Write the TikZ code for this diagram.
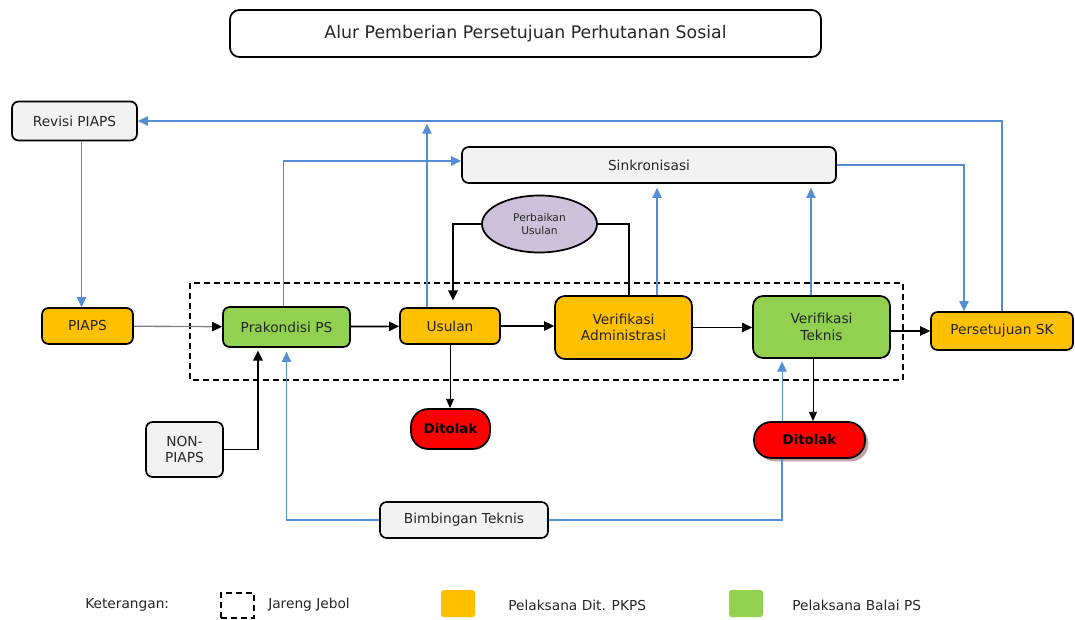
\documentclass[tikz,border=0pt]{standalone}
\usepackage{fontspec}
\setmainfont{DejaVu Sans}
\newfontfamily\tebal{DejaVu Sans Bold}
\usepackage{xcolor}
\usetikzlibrary{arrows.meta,calc,shapes.geometric,shadows}

\definecolor{pkps}{HTML}{FFC000}
\definecolor{balai}{HTML}{92D050}
\definecolor{abu}{HTML}{F2F2F2}
\definecolor{ungu}{HTML}{CCC0DA}
\definecolor{garis}{HTML}{558ED5}
\definecolor{teks}{HTML}{262626}
\definecolor{bayang}{HTML}{A87A7A}

\begin{document}
\begin{tikzpicture}[x=0.75pt, y=-0.75pt,
    box/.style={draw, rounded corners=5pt, line width=1.3pt, text=teks, align=center, inner sep=0pt, font=\fontsize{10.3}{12.5}\selectfont},
    tolak/.style={draw, fill=red, rounded corners=13pt, line width=1.3pt, text=black, inner sep=0pt, font=\tebal\fontsize{10}{12}\selectfont},
    ket/.style={text=teks, inner sep=0pt, anchor=west, font=\fontsize{10.3}{12.5}\selectfont},
    jareng/.style={draw, line width=1.3pt, dash pattern=on 4.5pt off 3pt},
    alur/.style={line width=1.3pt, -{Triangle[length=7.5pt,width=7pt]}},
    alurtipis/.style={line width=0.7pt, -{Triangle[length=7pt,width=6pt]}},
    balik/.style={draw=garis, line width=1.2pt, -{Triangle[length=7.5pt,width=7pt]}},
    balikpolos/.style={draw=garis, line width=1.2pt}]
        \useasboundingbox (0,0) rectangle (1075,620);

        % Judul
        \node[box, fill=white, rounded corners=7pt, minimum width=443.25pt, minimum height=35.25pt, font=\fontsize{13}{15}\selectfont] (judul) at (525.5,33.5) {Alur Pemberian Persetujuan Perhutanan Sosial};

        % Jareng Jebol
        \draw[jareng] (190,283) rectangle (903,380);

        % Kotak atas
        \node[box, fill=abu, minimum width=93.75pt, minimum height=29.25pt] (revisi) at (74.5,121) {Revisi PIAPS};
        \node[box, fill=abu, minimum width=280.5pt, minimum height=27pt] (sinkron) at (649,165) {Sinkronisasi};
        \node[draw, ellipse, fill=ungu, line width=1.3pt, minimum width=86.25pt, minimum height=42.75pt, inner sep=0pt, align=center, text=teks, font=\fontsize{8}{9.5}\selectfont] (perbaikan) at (539.5,224) {Perbaikan\\Usulan};

        % Alur utama
        \node[box, fill=pkps, minimum width=68.25pt, minimum height=27pt] (piaps) at (87.5,326) {PIAPS};
        \node[box, fill=balai, minimum width=95.25pt, minimum height=30pt] (prakondisi) at (286.5,327) {Prakondisi PS};
        \node[box, fill=pkps, minimum width=75pt, minimum height=27pt] (usulan) at (450,326) {Usulan};
        \node[box, fill=pkps, rounded corners=7.5pt, minimum width=102.75pt, minimum height=47.25pt] (veradmin) at (623.5,327.5) {Verifikasi\\Administrasi};
        \node[box, fill=balai, rounded corners=7.5pt, minimum width=102.75pt, minimum height=46.5pt] (vertek) at (821.5,327) {Verifikasi\\Teknis};
        \node[box, fill=pkps, minimum width=106.5pt, minimum height=28.5pt] (sk) at (1002,331) {Persetujuan SK};

        % Kotak bawah
        \node[tolak, minimum width=59.25pt, minimum height=30pt] (tolak1) at (450.5,429) {Ditolak};
        \node[tolak, minimum width=83.25pt, minimum height=27pt, drop shadow={shadow xshift=2.5pt, shadow yshift=-2.5pt, fill=bayang, opacity=0.7}] (tolak2) at (809.5,440) {Ditolak};
        \node[box, fill=abu, minimum width=57.75pt, minimum height=41.25pt] (nonpiaps) at (184.5,449.5) {NON-\\PIAPS};
        \node[box, fill=abu, minimum width=126pt, minimum height=27pt] (bimbingan) at (464,520) {Bimbingan Teknis};

        % Panah hitam
        \draw[alur, draw=black!50, line width=1pt, -{Triangle[length=7.5pt,width=7pt,color=black]}] (piaps) -- (prakondisi);
        \draw[alur] (prakondisi) -- (usulan);
        \draw[alur] (usulan.east) -- (usulan.east -| veradmin.west);
        \draw[alur] (veradmin.east) -- (veradmin.east -| vertek.west);
        \draw[alur] (sk.west -| vertek.east) -- (sk.west);
        \draw[alur, -] (perbaikan.east) -| ($(veradmin.north)+(5.5,0)$);
        \draw[alur, shorten >=5pt] (perbaikan.west) -| ($(usulan.north)+(3,0)$);
        \draw[alur, shorten >=2pt] (nonpiaps.east) -| ($(prakondisi.south)+(-28.5,0)$);
        \draw[alurtipis] (usulan.south) -- (usulan.south |- tolak1.north);
        \draw[alurtipis] ($(vertek.south)+(-8.5,0)$) coordinate (vt1) -- (vt1 |- tolak2.north);

        % Panah biru
        \draw[balik] ($(revisi.south)+(7,0)$) -- ($(piaps.north)+(-6,0)$);
        \draw[balik] ($(prakondisi.north)+(-3,0)$) |- ($(sinkron.west)+(0,-4)$);
        \draw[balik, shorten >=2pt] ($(usulan.north)+(-23,0)$) coordinate (us1) -- (us1 |- revisi.east);
        \draw[balik] (sk.north) |- (revisi.east);
        \draw[balik] (sinkron.east) -| ($(sk.north)+(-38,0)$);
        \draw[balik, shorten >=3pt] ($(veradmin.north)+(33.5,0)$) coordinate (va1) -- (va1 |- sinkron.south);
        \draw[balik, shorten >=3pt] ($(vertek.north)+(-10.5,0)$) coordinate (vt2) -- (vt2 |- sinkron.south);
        \draw[balik, line width=0.6pt, shorten >=2pt] ($(tolak2.north)+(-27.5,0)$) coordinate (dt1) -- (dt1 |- vertek.south);
        \draw[balikpolos] ($(tolak2.south)+(-27.5,0)$) |- (bimbingan.east);
        \draw[balik, shorten >=3pt] (bimbingan.west) -| (prakondisi.south);

        % Keterangan
        \node[ket] (keterangan) at (85,605) {Keterangan:};
        \node[jareng, line width=1.2pt, minimum width=24.75pt, minimum height=18.75pt, inner sep=0pt] (kjareng) at (237.5,605.5) {};
        \node[ket] (tjareng) at (268,605) {Jareng Jebol};
        \node[fill=pkps, rounded corners=2pt, minimum width=25.5pt, minimum height=20.25pt, inner sep=0pt] (kpkps) at (458,603.5) {};
        \node[ket] (tpkps) at (508,605) {Pelaksana Dit. PKPS};
        \node[fill=balai, rounded corners=2pt, minimum width=25.5pt, minimum height=20.25pt, inner sep=0pt] (kbalai) at (746,603.5) {};
        \node[ket] (tbalai) at (792,605) {Pelaksana Balai PS};
    \end{tikzpicture}
\end{document}
